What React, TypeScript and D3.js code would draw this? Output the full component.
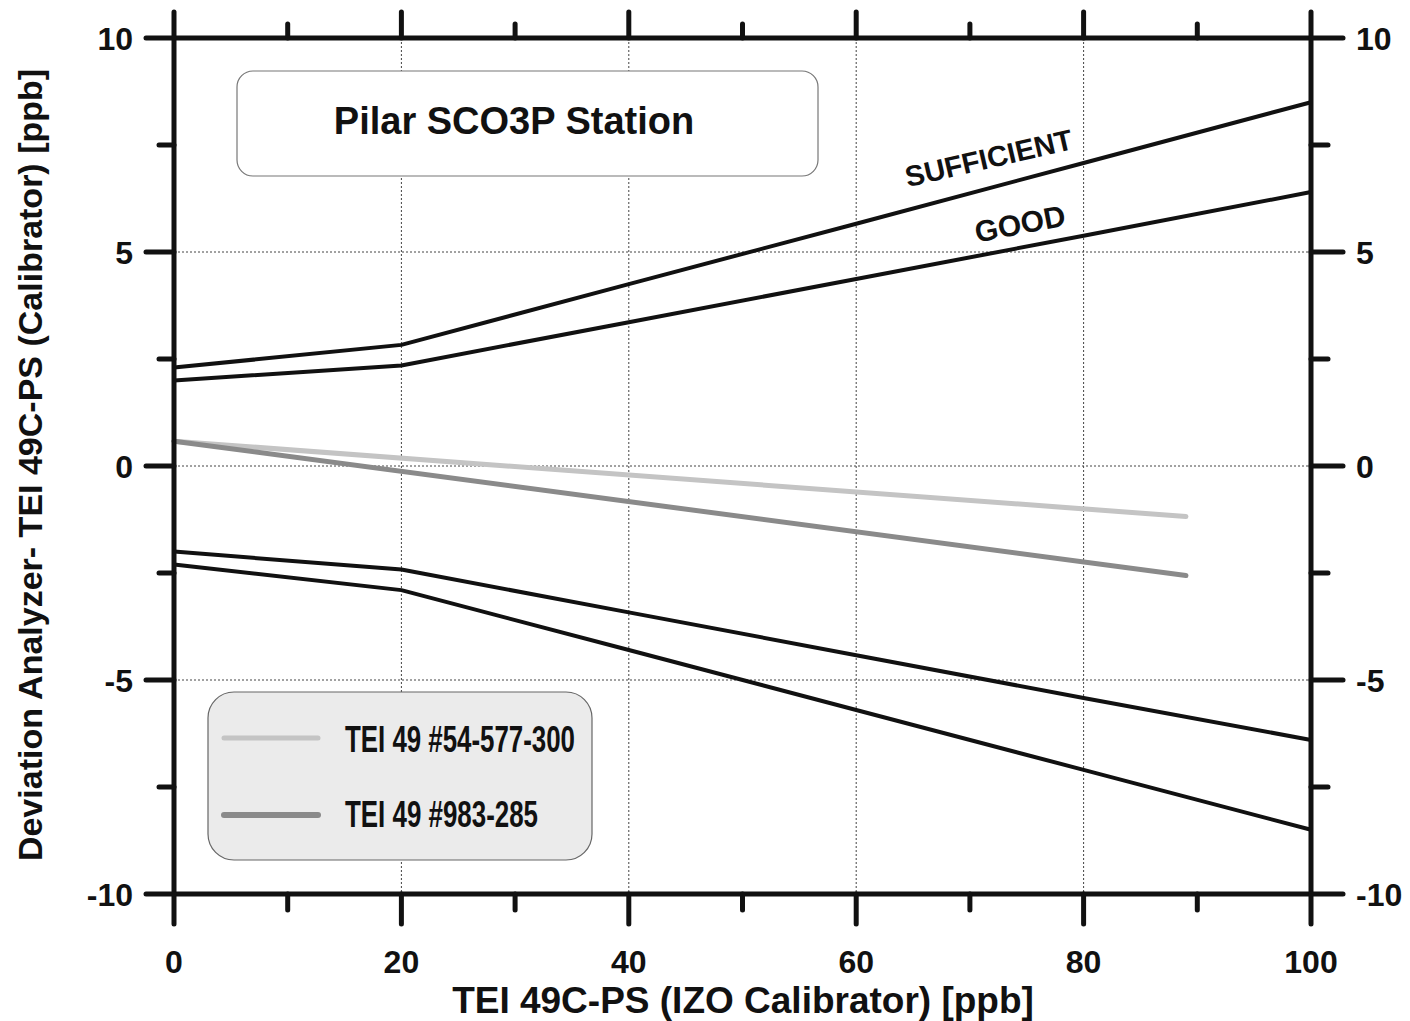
import React from "react";
import * as d3 from "d3";

// Reference concentrations of the calibrator [ppb]
const xLimits = [0, 20, 40, 60, 80, 100];
// Acceptance limits (upper / lower) for the analyzer deviation [ppb]
const sufficientUpper = [2.3, 2.83, 4.25, 5.66, 7.08, 8.5];
const goodUpper = [2.0, 2.35, 3.36, 4.37, 5.38, 6.4];
const goodLower = [-2.0, -2.42, -3.42, -4.42, -5.42, -6.4];
const sufficientLower = [-2.3, -2.9, -4.3, -5.7, -7.1, -8.5];

// Regression lines of the two analyzers
const analyzerX = [0, 89];
const analyzerA = [0.58, -1.18]; // TEI 49 #54-577-300
const analyzerB = [0.58, -2.56]; // TEI 49 #983-285

const xTicks = [0, 20, 40, 60, 80, 100];
const xMinorTicks = [10, 30, 50, 70, 90];
const yTicks = [-10, -5, 0, 5, 10];
const yMinorTicks = [-7.5, -2.5, 2.5, 7.5];
const gridX = [20, 40, 60, 80];
const gridY = [-5, 0, 5];

const W = 1410;
const H = 1021;
const left = 174;
const right = 1311;
const top = 38;
const bottom = 894;

const FONT = "Liberation Sans, Arial, sans-serif";

export default function App() {
  const x = d3.scaleLinear().domain([0, 100]).range([left, right]);
  const y = d3.scaleLinear().domain([-10, 10]).range([bottom, top]);

  const line = d3
    .line<[number, number]>()
    .x((d) => x(d[0]))
    .y((d) => y(d[1]));

  const pts = (xs: number[], ys: number[]) =>
    xs.map((v, i) => [v, ys[i]] as [number, number]);

  const limitSeries = [sufficientUpper, goodUpper, goodLower, sufficientLower];

  return (
    <svg
      width={W}
      height={H}
      style={{ position: "absolute", left: 0, top: 0, background: "#fff" }}
    >
      {/* grid */}
      {gridX.map((v) => (
        <line
          key={"gx" + v}
          x1={x(v)}
          x2={x(v)}
          y1={top}
          y2={bottom}
          stroke="#444"
          strokeWidth={1}
          strokeDasharray="2,2"
        />
      ))}
      {gridY.map((v) => (
        <line
          key={"gy" + v}
          x1={left}
          x2={right}
          y1={y(v)}
          y2={y(v)}
          stroke="#444"
          strokeWidth={1}
          strokeDasharray="2,2"
        />
      ))}

      {/* title box */}
      <rect
        x={237}
        y={71}
        width={581}
        height={105}
        rx={16}
        fill="#fff"
        stroke="#777"
        strokeWidth={1.2}
      />
      <text
        x={514}
        y={134}
        textAnchor="middle"
        fontFamily={FONT}
        fontWeight="bold"
        fontSize={38}
        fill="#111"
      >
        Pilar SCO3P Station
      </text>

      {/* limit curves */}
      {limitSeries.map((s, i) => (
        <path
          key={"lim" + i}
          d={line(pts(xLimits, s)) || ""}
          fill="none"
          stroke="#111"
          strokeWidth={4}
          strokeLinejoin="round"
        />
      ))}

      {/* analyzer regressions */}
      <path
        d={line(pts(analyzerX, analyzerA)) || ""}
        fill="none"
        stroke="#c4c4c4"
        strokeWidth={5}
        strokeLinecap="round"
      />
      <path
        d={line(pts(analyzerX, analyzerB)) || ""}
        fill="none"
        stroke="#8a8a8a"
        strokeWidth={5}
        strokeLinecap="round"
      />

      {/* curve labels */}
      <text
        transform={`translate(991,168) rotate(-13)`}
        textAnchor="middle"
        fontFamily={FONT}
        fontWeight="bold"
        fontSize={29}
        fill="#111"
      >
        SUFFICIENT
      </text>
      <text
        transform={`translate(1022,234) rotate(-11)`}
        textAnchor="middle"
        fontFamily={FONT}
        fontWeight="bold"
        fontSize={30}
        fill="#111"
      >
        GOOD
      </text>

      {/* legend */}
      <rect
        x={208}
        y={692}
        width={384}
        height={168}
        rx={26}
        fill="#ebebeb"
        stroke="#666"
        strokeWidth={1.2}
      />
      <line x1={224} x2={318} y1={738} y2={738} stroke="#c4c4c4" strokeWidth={5} strokeLinecap="round" />
      <line x1={224} x2={318} y1={815} y2={815} stroke="#8a8a8a" strokeWidth={6} strokeLinecap="round" />
      <text
        x={345}
        y={752}
        fontFamily={FONT}
        fontWeight="bold"
        fontSize={37}
        fill="#111"
        textLength={230}
        lengthAdjust="spacingAndGlyphs"
      >
        TEI 49 #54-577-300
      </text>
      <text
        x={345}
        y={827}
        fontFamily={FONT}
        fontWeight="bold"
        fontSize={37}
        fill="#111"
        textLength={193}
        lengthAdjust="spacingAndGlyphs"
      >
        TEI 49 #983-285
      </text>

      {/* axes frame */}
      <g stroke="#111" strokeWidth={5} strokeLinecap="round">
        <line x1={left} x2={right} y1={top} y2={top} />
        <line x1={left} x2={right} y1={bottom} y2={bottom} />
        <line x1={left} x2={left} y1={top} y2={bottom} />
        <line x1={right} x2={right} y1={top} y2={bottom} />
        {xTicks.map((v) => (
          <g key={"xt" + v}>
            <line x1={x(v)} x2={x(v)} y1={top} y2={top - 26} />
            <line x1={x(v)} x2={x(v)} y1={bottom} y2={bottom + 30} />
          </g>
        ))}
        {xMinorTicks.map((v) => (
          <g key={"xm" + v}>
            <line x1={x(v)} x2={x(v)} y1={top} y2={top - 14} />
            <line x1={x(v)} x2={x(v)} y1={bottom} y2={bottom + 16} />
          </g>
        ))}
        {yTicks.map((v) => (
          <g key={"yt" + v}>
            <line x1={left} x2={left - 28} y1={y(v)} y2={y(v)} />
            <line x1={right} x2={right + 32} y1={y(v)} y2={y(v)} />
          </g>
        ))}
        {yMinorTicks.map((v) => (
          <g key={"ym" + v}>
            <line x1={left} x2={left - 15} y1={y(v)} y2={y(v)} />
            <line x1={right} x2={right + 17} y1={y(v)} y2={y(v)} />
          </g>
        ))}
      </g>

      {/* tick labels */}
      <g fontFamily={FONT} fontWeight="bold" fontSize={32} fill="#111">
        {xTicks.map((v) => (
          <text key={"xl" + v} x={x(v)} y={973} textAnchor="middle">
            {v}
          </text>
        ))}
        {yTicks.map((v) => (
          <text key={"yl" + v} x={133} y={y(v) + 12} textAnchor="end">
            {v}
          </text>
        ))}
        {yTicks.map((v) => (
          <text key={"yr" + v} x={1356} y={y(v) + 12} textAnchor="start">
            {v}
          </text>
        ))}
      </g>

      {/* axis titles */}
      <text
        x={743}
        y={1013}
        textAnchor="middle"
        fontFamily={FONT}
        fontWeight="bold"
        fontSize={37}
        fill="#111"
      >
        TEI 49C-PS (IZO Calibrator) [ppb]
      </text>
      <text
        transform={`translate(42,465) rotate(-90)`}
        textAnchor="middle"
        fontFamily={FONT}
        fontWeight="bold"
        fontSize={34}
        fill="#111"
      >
        Deviation Analyzer- TEI 49C-PS (Calibrator) [ppb]
      </text>
    </svg>
  );
}
